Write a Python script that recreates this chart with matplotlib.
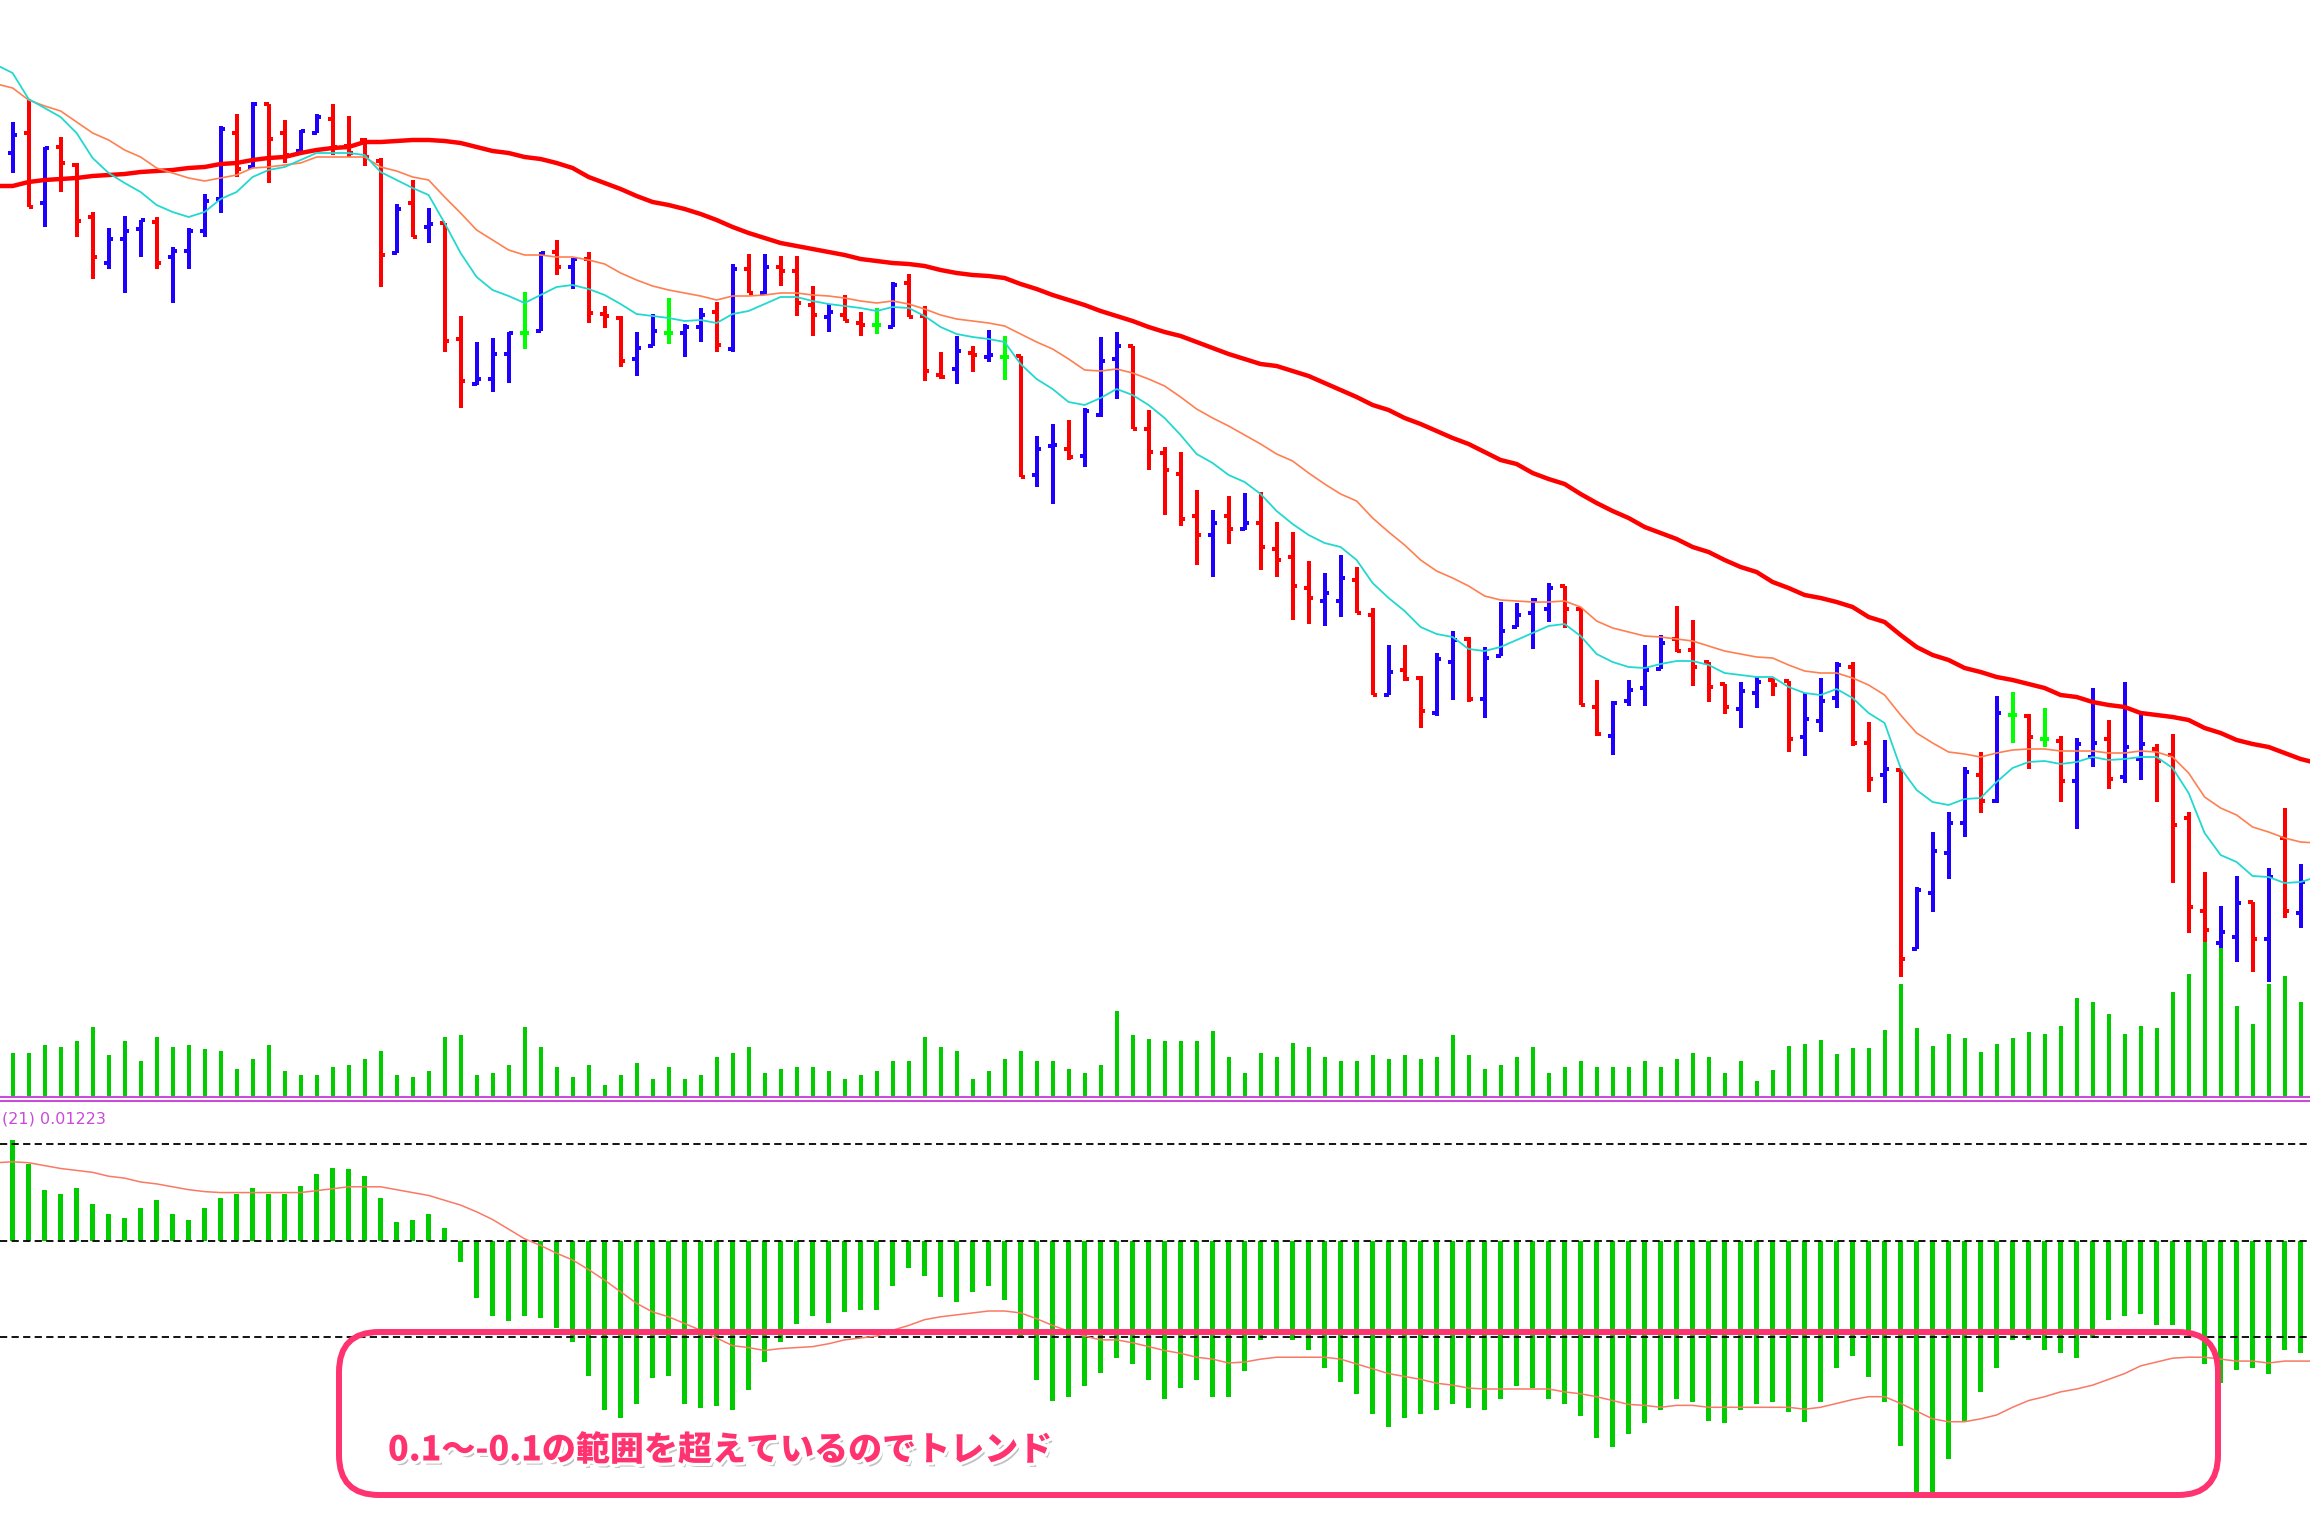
import numpy as np
import matplotlib
matplotlib.use("Agg")
import matplotlib.pyplot as plt
import matplotlib.patheffects as pe
from matplotlib.patches import FancyBboxPatch
from matplotlib.transforms import IdentityTransform

plt.rcParams['font.family'] = ['Noto Sans CJK JP', 'DejaVu Sans']

# ---- price bars (arbitrary price units, one entry per bar) ----
opens = [947, 967, 897, 953, 935, 883, 837, 861, 871, 878,
         843, 849, 869, 901, 967, 933, 996, 967, 949, 967,
         981, 954, 960, 939, 847, 897, 873, 877, 761, 716,
         721, 746, 767, 769, 848, 833, 841, 786, 782, 741,
         754, 767, 767, 773, 788, 751, 831, 807, 833, 829,
         795, 783, 785, 777, 775, 773, 817, 784, 725, 731,
         747, 743, 743, 744, 625, 654, 651, 644, 685, 741,
         754, 671, 647, 626, 584, 565, 584, 571, 577, 551,
         543, 512, 499, 499, 520, 485, 405, 430, 422, 387,
         438, 461, 401, 444, 473, 487, 491, 514, 491, 393,
         364, 399, 412, 431, 461, 450, 438, 416, 391, 407,
         420, 419, 363, 379, 402, 433, 357, 325, 330, 151,
         207, 247, 277, 325, 299, 385, 384, 361, 359, 319,
         343, 361, 323, 341, 351, 345, 282, 189, 157, 163,
         198, 161, 262, 187]
highs = [978, 1000, 953, 963, 937, 888, 872, 884, 880, 883,
         853, 872, 906, 974, 986, 998, 996, 980, 970, 986,
         996, 984, 962, 942, 896, 920, 892, 877, 784, 758,
         762, 768, 808, 848, 860, 842, 848, 794, 784, 768,
         786, 802, 776, 792, 798, 836, 846, 846, 844, 844,
         814, 796, 805, 788, 792, 818, 826, 794, 748, 764,
         754, 770, 764, 744, 664, 676, 680, 692, 763, 768,
         754, 690, 653, 648, 610, 590, 604, 607, 608, 578,
         568, 539, 527, 545, 533, 492, 455, 455, 424, 447,
         469, 463, 453, 498, 497, 502, 517, 514, 492, 420,
         399, 420, 455, 465, 494, 480, 438, 416, 418, 423,
         422, 419, 407, 422, 438, 438, 378, 360, 331, 213,
         268, 288, 333, 348, 404, 408, 386, 392, 364, 362,
         412, 380, 418, 388, 356, 366, 288, 228, 194, 224,
         198, 232, 292, 236]
lows = [927, 893, 873, 908, 863, 821, 831, 807, 843, 831,
        797, 831, 863, 887, 923, 932, 917, 937, 947, 967,
        945, 943, 934, 813, 847, 863, 857, 748, 692, 715,
        708, 717, 751, 769, 825, 811, 777, 772, 733, 724,
        754, 756, 743, 758, 748, 748, 807, 806, 814, 784,
        764, 768, 779, 764, 766, 773, 783, 719, 721, 716,
        728, 738, 720, 623, 613, 596, 640, 633, 683, 701,
        671, 630, 585, 574, 535, 523, 556, 570, 530, 523,
        480, 476, 474, 483, 487, 405, 405, 419, 372, 384,
        400, 398, 382, 444, 473, 451, 478, 472, 395, 364,
        345, 394, 394, 431, 448, 414, 398, 386, 372, 392,
        404, 348, 344, 368, 392, 354, 308, 297, 123, 151,
        188, 221, 263, 287, 297, 357, 331, 353, 298, 271,
        333, 311, 317, 320, 298, 217, 167, 158, 152, 138,
        128, 118, 182, 172]
closes = [965, 893, 952, 937, 879, 843, 861, 869, 880, 837,
          849, 869, 899, 971, 931, 996, 961, 945, 969, 983,
          953, 947, 943, 845, 891, 863, 876, 759, 719, 721,
          746, 767, 767, 847, 833, 841, 787, 784, 739, 752,
          769, 767, 773, 785, 755, 831, 807, 833, 829, 797,
          785, 788, 779, 775, 775, 815, 783, 729, 723, 749,
          745, 745, 743, 623, 651, 655, 643, 689, 739, 754,
          671, 648, 630, 581, 565, 577, 571, 577, 553, 540,
          514, 502, 507, 522, 487, 405, 428, 421, 389, 441,
          460, 401, 442, 469, 485, 500, 512, 491, 395, 366,
          397, 410, 430, 457, 449, 433, 413, 393, 409, 418,
          415, 361, 381, 399, 435, 357, 321, 331, 141, 210,
          249, 277, 328, 299, 387, 385, 363, 361, 319, 356,
          357, 321, 353, 356, 339, 275, 193, 170, 168, 197,
          161, 223, 189, 218]
volume = [440, 440, 520, 500, 560, 700, 420, 560, 360, 600,
          500, 520, 480, 460, 280, 380, 520, 260, 220, 220,
          300, 320, 380, 460, 220, 200, 260, 600, 620, 220,
          240, 320, 700, 500, 300, 200, 320, 120, 220, 340,
          180, 300, 180, 220, 400, 440, 500, 240, 280, 300,
          300, 260, 180, 220, 260, 360, 360, 600, 500, 460,
          180, 260, 380, 460, 360, 360, 280, 240, 320, 860,
          620, 580, 560, 560, 560, 660, 400, 240, 440, 400,
          540, 500, 400, 360, 360, 420, 380, 420, 380, 400,
          620, 420, 280, 320, 400, 500, 240, 300, 360, 300,
          300, 300, 360, 300, 380, 440, 400, 240, 360, 160,
          270, 510, 530, 570, 430, 490, 490, 670, 1130, 690,
          510, 630, 590, 450, 530, 590, 650, 630, 710, 990,
          950, 830, 630, 710, 690, 1050, 1230, 1550, 1490, 910,
          730, 1130, 1210, 950]

# moving averages, one value per bar from bar -1 to bar 144
ma_fast = [1035,
           1027, 1001, 992, 983, 967, 942, 927, 917, 908, 895,
           888, 883, 888, 901, 908, 923, 930, 933, 940, 947,
           947, 947, 945, 928, 920, 912, 905, 877, 847, 823,
           810, 804, 797, 805, 813, 815, 811,
           805, 796, 786, 784, 782, 779, 780, 777, 786, 789,
           796, 803, 803, 799, 796, 794, 792, 789, 793, 792,
           784, 773, 766, 763, 761, 758, 736, 721, 711, 698,
           695, 702, 711, 705, 695, 682,
           665, 646, 637, 625, 618, 606, 589, 576, 565, 557,
           553, 540, 517, 502, 489, 473, 466, 463, 451, 449,
           453, 460, 467, 474, 476, 464, 446, 438, 433, 432,
           436, 439, 439, 435, 427, 425, 423,
           423, 413, 407, 405, 411, 402, 387, 377, 332, 310,
           298, 295, 301, 302, 318, 332, 338, 339, 336, 338,
           343, 340, 341, 343, 343, 332, 307, 267, 245, 238,
           224, 223, 217, 218,
           223]
ma_mid = [1016,
          1012, 1000, 994, 989, 978, 967, 960, 950, 943, 932,
          927, 922, 919, 922, 925, 932, 933, 935, 937, 943,
          943, 943, 943, 933, 929, 923, 920, 903, 887, 870,
          860, 850, 845, 845, 843, 843, 840,
          836, 827, 820, 814, 810, 807, 804, 800, 804, 804,
          805, 807, 807, 805, 804, 802, 799, 797, 799, 796,
          791, 785, 781, 779, 777, 774, 766, 758, 751, 741,
          730, 729, 731, 727, 721, 714,
          703, 691, 682, 674, 665, 656, 646, 639, 627, 616,
          606, 599, 582, 568, 555, 540, 529, 522, 514, 504,
          500, 499, 498, 498, 499, 493, 479, 472, 468, 464,
          463, 461, 459, 454, 449, 446, 443,
          442, 435, 429, 427, 427, 422, 415, 405, 385, 367,
          357, 348, 346, 343, 347, 350, 351, 351, 349, 349,
          349, 347, 347, 349, 348, 343, 327, 303, 292, 285,
          273, 268, 262, 258,
          257]
ma_slow = [914,
           914, 918, 920, 921, 922, 924, 925, 926, 928, 929,
           930, 932, 933, 936, 937, 940, 942, 943, 947, 950,
           952, 953, 958, 958, 959, 960, 960, 959, 957, 953,
           949, 947, 943, 941, 937, 932, 923,
           917, 911, 904, 898, 895, 891, 886, 880, 873, 867,
           862, 857, 854, 851, 848, 845, 841, 839, 837, 836,
           834, 830, 827, 825, 824, 822, 816, 811, 805, 800,
           795, 789, 784, 779, 773, 768,
           764, 758, 752, 746, 741, 736, 734, 729, 724, 717,
           710, 703, 695, 690, 682, 676, 669, 662, 656, 648,
           640, 636, 627, 621, 616, 606, 597, 589, 582, 573,
           567, 561, 553, 548, 540, 533, 528,
           518, 512, 505, 502, 498, 493, 483, 478, 465, 453,
           445, 440, 432, 428, 423, 420, 416, 412, 405, 403,
           398, 395, 393, 387, 385, 383, 380, 372, 367, 360,
           356, 353, 347, 341,
           337]

# ---- oscillator sub window ----
osc_hist = [0.105, 0.080, 0.053, 0.049, 0.055, 0.038, 0.028, 0.024, 0.034, 0.042,
            0.028, 0.022, 0.034, 0.044, 0.049, 0.055, 0.049, 0.049, 0.057, 0.069,
            0.076, 0.074, 0.067, 0.044, 0.019, 0.022, 0.028, 0.013, -0.022, -0.060,
            -0.078, -0.083, -0.078, -0.080, -0.091, -0.105, -0.141,
            -0.176, -0.184, -0.170, -0.143, -0.141, -0.170, -0.174, -0.172, -0.176, -0.155,
            -0.126, -0.105, -0.087, -0.078, -0.085, -0.074, -0.072, -0.072, -0.047, -0.028,
            -0.037, -0.058, -0.064, -0.053, -0.047, -0.062, -0.101, -0.145, -0.166, -0.162,
            -0.151, -0.137, -0.122, -0.128, -0.145, -0.164,
            -0.153, -0.145, -0.162, -0.162, -0.135, -0.103, -0.098, -0.103, -0.114, -0.132,
            -0.147, -0.159, -0.180, -0.193, -0.184, -0.180, -0.176, -0.170, -0.174, -0.176,
            -0.164, -0.151, -0.153, -0.164, -0.170, -0.182, -0.205, -0.214, -0.201, -0.189,
            -0.176, -0.164, -0.168, -0.187, -0.189, -0.176, -0.170,
            -0.167, -0.178, -0.188, -0.167, -0.132, -0.120, -0.142, -0.167, -0.213, -0.263,
            -0.263, -0.227, -0.187, -0.157, -0.132, -0.103, -0.103, -0.113, -0.117, -0.122,
            -0.101, -0.082, -0.078, -0.076, -0.088, -0.088, -0.096, -0.128, -0.148, -0.134,
            -0.132, -0.138, -0.113, -0.117]
osc_signal = [0.081,
              0.082, 0.081, 0.078, 0.075, 0.073, 0.071, 0.067, 0.065, 0.061, 0.059,
              0.056, 0.053, 0.051, 0.050, 0.050, 0.050, 0.050, 0.050, 0.050, 0.052,
              0.054, 0.056, 0.056, 0.056, 0.053, 0.050, 0.047, 0.042, 0.037, 0.030,
              0.022, 0.012, 0.002, -0.005, -0.013, -0.020, -0.030,
              -0.041, -0.053, -0.065, -0.074, -0.079, -0.086, -0.093, -0.101, -0.109, -0.111,
              -0.114, -0.112, -0.111, -0.110, -0.107, -0.103, -0.101, -0.099, -0.093, -0.088,
              -0.082, -0.079, -0.077, -0.075, -0.073, -0.073, -0.075, -0.081, -0.088, -0.094,
              -0.099, -0.103, -0.103, -0.106, -0.110, -0.114,
              -0.117, -0.121, -0.123, -0.127, -0.126, -0.123, -0.121, -0.121, -0.121, -0.121,
              -0.123, -0.128, -0.133, -0.138, -0.141, -0.144, -0.148, -0.150, -0.153, -0.154,
              -0.154, -0.154, -0.154, -0.154, -0.157, -0.159, -0.162, -0.166, -0.170, -0.171,
              -0.173, -0.171, -0.171, -0.173, -0.173, -0.173, -0.173,
              -0.173, -0.173, -0.175, -0.173, -0.169, -0.165, -0.162, -0.162, -0.169, -0.177,
              -0.185, -0.188, -0.188, -0.185, -0.181, -0.173, -0.166, -0.162, -0.157, -0.154,
              -0.150, -0.144, -0.138, -0.130, -0.126, -0.122, -0.121, -0.121, -0.123, -0.125,
              -0.125, -0.127, -0.125, -0.125,
              -0.125]
osc_levels = [0.1, 0.0, -0.1]
osc_label = "(21) 0.01223"
note_text = "0.1〜-0.1の範囲を超えているのでトレンド"

# colours
c_up, c_down, c_doji = "#1E00FF", "#FF0000", "#00FF00"
c_vol = "#00CC00"
c_sep = "#C84BD9"
c_note = "#FF3370"

o, h, l, c = (np.array(a, dtype=float) for a in (opens, highs, lows, closes))
x = np.arange(len(o))
ma_x = np.arange(-1, len(o) + 1)
bar_col = np.where(c > o, c_up, np.where(c < o, c_down, c_doji))

W, H = 2310, 1516
fig = plt.figure(figsize=(W / 100, H / 100), dpi=100)
main_rect = [0, 419 / H, 1, 1097 / H]
axv = fig.add_axes(main_rect)
ax = fig.add_axes(main_rect)
ax.patch.set_alpha(0)
ax2 = fig.add_axes([0, 0, 1, 415 / H])

xlim = (-12.6 / 16, (W - 12.6) / 16)
for a in (axv, ax, ax2):
    a.set_xlim(*xlim)
    a.set_xticks([])
    a.set_yticks([])
    for s in a.spines.values():
        s.set_visible(False)

# volume along the bottom of the price window
axv.vlines(x, 0, volume, colors=c_vol, linewidth=1.5, antialiased=False)
axv.set_ylim(0, 10970)

# OHLC bars
ax.vlines(x, l, h, colors=bar_col, linewidth=1.5, antialiased=False, zorder=2)
ax.hlines(o, x - 0.27, x, colors=bar_col, linewidth=1.5, antialiased=False, zorder=2)
ax.hlines(c, x, x + 0.27, colors=bar_col, linewidth=1.5, antialiased=False, zorder=2)

ax.plot(ma_x, ma_slow, color="#FF0000", lw=3.2, zorder=3)
ax.plot(ma_x, ma_mid, color="#FF7F50", lw=1.2, zorder=4)
ax.plot(ma_x, ma_fast, color="#22D8CF", lw=1.3, zorder=4)
ax.set_ylim(3, 1100)
ax.spines['bottom'].set_visible(True)
ax.spines['bottom'].set_color(c_sep)
ax.spines['bottom'].set_linewidth(1.5)

# oscillator window
ax2.bar(x, osc_hist, width=0.34, color=c_vol, antialiased=False, zorder=1)
for lv in osc_levels:
    ax2.axhline(lv, color="black", lw=1.3, ls=(0, (4, 2.4)), zorder=2)
ax2.plot(ma_x, osc_signal, color="#FA7864", lw=1.1, zorder=3)
ax2.set_ylim(-0.2859, 0.1451)
ax2.spines['top'].set_visible(True)
ax2.spines['top'].set_color(c_sep)
ax2.spines['top'].set_linewidth(1.5)

fig.text(2 / W, 1 - 1112 / H, osc_label, color=c_sep, fontsize=11.5,
         family="DejaVu Sans", ha="left", va="top")

# annotation box (pixel coordinates)
box = FancyBboxPatch((339, 21), 1879, 163, boxstyle="round,pad=0,rounding_size=40",
                     transform=IdentityTransform(), fill=False,
                     edgecolor=c_note, linewidth=4.3, zorder=10)
fig.add_artist(box)
fig.text(388 / W, 66 / H, note_text, color=c_note, fontsize=24.5, fontweight="heavy",
         ha="left", va="center", zorder=11,
         path_effects=[pe.SimplePatchShadow(offset=(2, -3), shadow_rgbFace="#777777", alpha=0.45),
                       pe.Stroke(linewidth=4.5, foreground="white"),
                       pe.Normal()])

fig.savefig("out.png", dpi=100, facecolor="white")
